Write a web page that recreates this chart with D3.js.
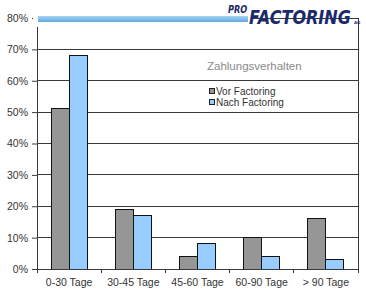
<!DOCTYPE html>
<html>
<head>
<meta charset="utf-8">
<script src="https://cdn.jsdelivr.net/npm/d3@7"></script>
<style>
  body { margin: 0; background: #fff; }
  svg { display: block; font-family: "Liberation Sans", Arial, sans-serif; }
</style>
</head>
<body>
<svg id="chart" width="366" height="290"></svg>
<script>
// chart values
const categories = ['0-30 Tage', '30-45 Tage', '45-60 Tage', '60-90 Tage', '> 90 Tage'];
const series = ['Vor Factoring', 'Nach Factoring'];
const vor = [51, 19, 4, 10, 16];
const nach = [68, 17, 8, 4, 3];
const y_ticks = [0, 10, 20, 30, 40, 50, 60, 70, 80];
const colors = ['#969696', '#99ccff'];

const width = 366, height = 290;
const margin = {top: 18, left: 37, right: 8, bottom: 21};
const inner_w = width - margin.left - margin.right;
const inner_h = height - margin.top - margin.bottom;

const svg = d3.select('#chart');
const g = svg.append('g').attr('transform', `translate(${margin.left},${margin.top})`);

const x0 = d3.scaleBand().domain(categories).range([0, inner_w]).padding(0);
const x1 = d3.scaleBand().domain(series).range([0, x0.bandwidth()]).paddingInner(0).paddingOuter(0.78);
const y = d3.scaleLinear().domain([0, 80]).range([inner_h, 0]);

// gridlines
g.append('g').selectAll('line').data(y_ticks.filter(d => d > 0)).join('line')
    .attr('x1', 0).attr('x2', inner_w)
    .attr('y1', d => y(d)).attr('y2', d => y(d))
    .attr('stroke', '#3a3a3a').attr('stroke-width', 1)
    .attr('shape-rendering', 'crispEdges');

// right border
g.append('line').attr('x1', inner_w).attr('x2', inner_w).attr('y1', 0).attr('y2', inner_h)
    .attr('stroke', '#3a3a3a').attr('shape-rendering', 'crispEdges');

// bars
const rows = categories.map((c, i) => ({cat: c, vals: [vor[i], nach[i]]}));
const groups = g.append('g').selectAll('g').data(rows).join('g')
    .attr('transform', d => `translate(${x0(d.cat)},0)`);
groups.selectAll('rect').data(d => d.vals.map((v, j) => ({s: series[j], v, j}))).join('rect')
    .attr('x', d => x1(d.s))
    .attr('y', d => y(d.v))
    .attr('width', x1.bandwidth())
    .attr('height', d => y(0) - y(d.v))
    .attr('fill', d => colors[d.j])
    .attr('stroke', '#111').attr('stroke-width', 1)
    .attr('shape-rendering', 'crispEdges');

// y axis
const y_axis = g.append('g').call(d3.axisLeft(y).tickValues(y_ticks).tickFormat(d => d + '%').tickSize(5).tickSizeOuter(0).tickPadding(4));
y_axis.select('.domain').attr('stroke', '#3a3a3a');
y_axis.selectAll('.tick line').attr('stroke', '#3a3a3a');
y_axis.selectAll('text').attr('fill', '#333').attr('font-size', 10.5);

// x axis with ticks at category boundaries
const x_axis = g.append('g').attr('transform', `translate(0,${inner_h})`)
    .call(d3.axisBottom(x0).tickSize(0).tickPadding(10));
x_axis.select('.domain').attr('stroke', '#3a3a3a');
x_axis.selectAll('text').attr('fill', '#333').attr('font-size', 10.5);
x_axis.selectAll('line.bound').data(d3.range(categories.length + 1)).join('line')
    .attr('class', 'bound')
    .attr('x1', i => i * x0.step()).attr('x2', i => i * x0.step())
    .attr('y1', 0).attr('y2', 4)
    .attr('stroke', '#3a3a3a').attr('shape-rendering', 'crispEdges');

// legend
const legend = svg.append('g').attr('transform', 'translate(207,0)');
legend.append('text').attr('x', 0).attr('y', 70).text('Zahlungsverhalten')
    .attr('fill', '#8a8a8a').attr('font-size', 11.5);
series.forEach((s, i) => {
    const ly = 91 + i * 11;
    legend.append('rect').attr('x', 2.5).attr('y', ly - 2.5).attr('width', 5).attr('height', 5)
        .attr('fill', colors[i]).attr('stroke', '#222').attr('stroke-width', 1);
    legend.append('text').attr('x', 9).attr('y', ly + 4).text(s)
        .attr('fill', '#333').attr('font-size', 10);
});

// logo strip
const defs = svg.append('defs');
const grad = defs.append('linearGradient').attr('id', 'strip').attr('x1', 0).attr('x2', 0).attr('y1', 0).attr('y2', 1);
grad.append('stop').attr('offset', '0%').attr('stop-color', '#a9d4f2');
grad.append('stop').attr('offset', '100%').attr('stop-color', '#5ea8e2');
svg.append('rect').attr('x', 33).attr('y', 13).attr('width', 220).attr('height', 14).attr('fill', '#fff');
svg.append('rect').attr('x', 38).attr('y', 16).attr('width', 210).attr('height', 6).attr('fill', 'url(#strip)');
const logo = svg.append('g').attr('font-family', '"DejaVu Sans", sans-serif')
    .attr('font-weight', 'bold').attr('font-style', 'italic').attr('fill', '#1b2a6b');
logo.append('text').attr('transform', 'translate(228,13) scale(0.82,1)').text('PRO')
    .attr('font-size', 10);
logo.append('text').attr('transform', 'translate(249,24) scale(0.8,1)').text('FACTORING')
    .attr('font-size', 20);
logo.append('text').attr('x', 354).attr('y', 24).text('AG')
    .attr('font-size', 4).attr('font-style', 'normal');
</script>
</body>
</html>
